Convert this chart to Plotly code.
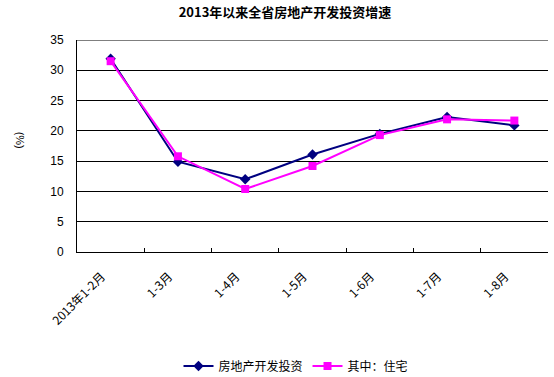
import plotly.graph_objects as go

categories = ["2013年1-2月", "1-3月", "1-4月", "1-5月", "1-6月", "1-7月", "1-8月"]
investment = [31.9, 14.9, 12.0, 16.1, 19.5, 22.3, 20.9]
residential = [31.5, 15.8, 10.4, 14.2, 19.3, 21.9, 21.7]
y_ticks = [0, 5, 10, 15, 20, 25, 30, 35]

W, H = 554, 377
L, R, T, B = 77, 6, 39.5, 125

fig = go.Figure()
fig.add_trace(go.Scatter(
    x=categories, y=investment, name="房地产开发投资", mode="lines+markers",
    line=dict(color="#000080", width=2),
    marker=dict(symbol="diamond", size=8, color="#000080"),
))
fig.add_trace(go.Scatter(
    x=categories, y=residential, name="其中：住宅", mode="lines+markers",
    line=dict(color="#FF00FF", width=2),
    marker=dict(symbol="square", size=8, color="#FF00FF"),
))

fig.update_layout(
    width=W, height=H,
    margin=dict(l=L, r=R, t=T, b=B),
    paper_bgcolor="white", plot_bgcolor="white",
    font=dict(family="Liberation Sans, Noto Sans CJK SC", size=12, color="black"),
    title=dict(text="<b>2013年以来全省房地产开发投资增速</b>",
               x=285 / W, xanchor="center", y=1 - 12 / H, yanchor="middle",
               font=dict(family="Noto Sans CJK SC", size=13, color="black")),
    showlegend=True,
    legend=dict(orientation="h", xref="container", yref="container",
                x=296 / W, xanchor="center", y=1 - 366 / H, yanchor="middle",
                font=dict(family="Noto Sans CJK SC", size=12),
                itemwidth=30, bgcolor="rgba(0,0,0,0)"),
    xaxis=dict(
        type="category", tickangle=-45, tickson="boundaries",
        ticks="inside", ticklen=4, tickcolor="black", tickwidth=1,
        showline=True, linecolor="black", linewidth=1,
        showgrid=False, zeroline=False, ticklabelstandoff=12, ticklabelshift=-9,
        tickfont=dict(family="Noto Sans CJK SC", size=12),
        range=[-0.5, 6.5],
    ),
    yaxis=dict(
        range=[0, 35], tickvals=y_ticks, ticktext=[str(v) for v in y_ticks],
        showline=True, linecolor="black", linewidth=1,
        showgrid=True, gridcolor="black", gridwidth=1,
        zeroline=False, ticks="", ticklen=0, ticklabelstandoff=10,
        tickfont=dict(family="Liberation Sans", size=12),
    ),
    shapes=[dict(type="line", xref="paper", yref="y", x0=0, x1=1, y0=35, y1=35,
                 line=dict(color="black", width=1), layer="below")],
    annotations=[dict(text="(%)", xref="paper", yref="paper",
                      x=(12 - L) / (W - L - R), y=0.53, showarrow=False,
                      textangle=90, font=dict(size=11, family="Liberation Sans"))],
)

fig.write_html("out.html")
